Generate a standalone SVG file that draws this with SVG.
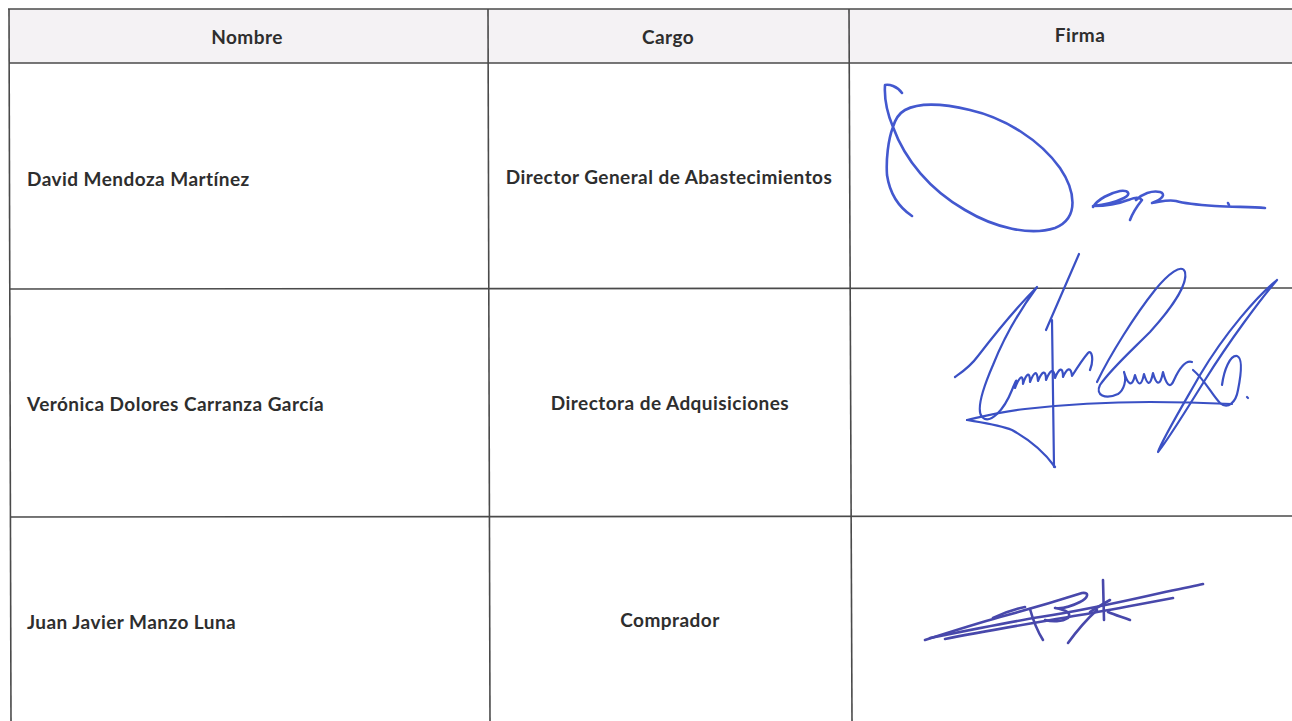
<svg xmlns="http://www.w3.org/2000/svg" width="1292" height="721" viewBox="0 0 1292 721">
<style>
.t{font-family:Lato,"Open Sans","Liberation Sans",sans-serif;font-weight:700;font-size:19px;letter-spacing:0.45px;fill:#2e2e2e}
.c{text-anchor:middle}
.ln{stroke:#4a4a4a;stroke-width:1.6;fill:none}
.s1{fill:none;stroke:#4358cf;stroke-width:2.6;stroke-linecap:round;stroke-linejoin:round}
.s2{fill:none;stroke:#3a50c4;stroke-width:2.2;stroke-linecap:round;stroke-linejoin:round}
.s3{fill:none;stroke:#4848ab;stroke-width:2.6;stroke-linecap:round;stroke-linejoin:round}
</style>
<rect width="1292" height="721" fill="#ffffff"/>
<rect x="9" y="9" width="1283" height="54" fill="#f4f2f4"/>
<g id="grid">
<line class="ln" x1="8" y1="9" x2="1292" y2="9"/>
<line class="ln" x1="9" y1="63" x2="1292" y2="63"/>
<line class="ln" x1="10" y1="289" x2="1292" y2="288"/>
<line class="ln" x1="11" y1="517" x2="1292" y2="516"/>
<line class="ln" x1="9" y1="9" x2="11" y2="721"/>
<line class="ln" x1="488" y1="9" x2="490" y2="721"/>
<line class="ln" x1="849" y1="9" x2="852" y2="721"/>
</g>
<g id="header">
<text class="t c" x="247" y="44">Nombre</text>
<text class="t c" x="668" y="44">Cargo</text>
<text class="t c" x="1080" y="42">Firma</text>
</g>
<g id="row1">
<text class="t" x="27" y="186">David Mendoza Martínez</text>
<text class="t c" x="669" y="184">Director General de Abastecimientos</text>
<g id="sig1">
<path class="s1" d="M902,93 C897,86 889,84 885,85 C884,100 888,115 893,127 C905,160 930,190 965,210 C995,228 1030,236 1055,228 C1080,218 1075,190 1060,168 C1040,140 1005,118 970,110 C945,104 920,102 905,110 C898,114 895,120 893,127 C888,140 886,160 887,175 C890,195 900,208 912,216"/>
<path class="s1" d="M1093,207 C1098,199 1110,193 1120,191 C1128,190 1132,194 1124,198 C1116,202 1104,205 1093,206 C1105,206 1118,204 1128,200 C1134,198 1139,196 1142,200 C1138,205 1133,212 1130,220 M1136,200 C1142,194 1152,190 1160,192 C1166,194 1163,199 1152,203 C1160,202 1168,199 1176,201 C1186,204 1200,205 1215,206 C1235,207 1252,207 1265,208"/>
<path class="s1" d="M1228,203 L1229,205"/>
</g>
</g>
<g id="row2">
<text class="t" x="27" y="411">Verónica Dolores Carranza García</text>
<text class="t c" x="670" y="410">Directora de Adquisiciones</text>
<g id="sig2">
<path class="s2" d="M1079,254 L1046,330"/>
<path class="s2" d="M1052,320 L1054,467"/>
<path class="s2" d="M955,377 C962,372 970,367 978,356 C995,334 1018,306 1037,287 C1020,310 1003,340 993,365 C983,388 976,410 982,417 C990,425 1004,410 1012,390 C1016,380 1018,376 1015,388 C1019,378 1023,372 1023,384 C1026,374 1030,370 1030,382 C1034,372 1037,369 1038,381 C1042,371 1046,369 1046,380 C1050,370 1054,367 1055,378 C1059,368 1063,366 1063,377 C1067,368 1071,366 1072,376 C1077,368 1082,360 1088,353 C1092,349 1094,360 1090,370"/>
<path class="s2" d="M1097,382 C1110,355 1135,315 1155,290 C1168,274 1182,263 1185,272 C1188,285 1170,310 1150,332 C1130,352 1110,370 1100,385 C1095,395 1105,400 1118,394 C1124,390 1127,380 1124,372 C1128,385 1132,388 1135,375 C1138,385 1141,388 1144,374 C1147,384 1150,388 1153,373 C1156,384 1160,388 1163,372 C1166,384 1170,390 1174,380 C1180,367 1186,360 1192,362"/>
<path class="s2" d="M1277,280 C1260,300 1230,340 1205,380 C1185,412 1168,440 1158,452 C1162,440 1180,410 1200,375 C1225,333 1258,295 1277,280"/>
<path class="s2" d="M1193,370 C1205,380 1212,395 1220,403 C1228,410 1236,402 1238,390 C1241,375 1243,358 1237,356 C1230,355 1224,370 1222,385"/>
<path class="s2" d="M1247,397 L1248,398"/>
<path class="s2" d="M967,420 C985,416 1000,412 1025,409 C1060,405 1100,402 1150,402 C1185,402 1210,403 1232,404"/>
<path class="s2" d="M967,420 C985,423 1000,425 1012,430 C1030,440 1045,453 1055,467"/>
</g>
</g>
<g id="row3">
<text class="t" x="27" y="629">Juan Javier Manzo Luna</text>
<text class="t c" x="670" y="627">Comprador</text>
<g id="sig3">
<path class="s3" d="M925,640 C950,632 975,624 1000,617 C1030,609 1060,600 1082,593 C1090,592 1088,598 1080,602 C1072,606 1062,609 1055,608 C1065,610 1072,612 1068,618 C1062,622 1052,622 1045,620"/>
<path class="s3" d="M945,639 C990,630 1040,622 1080,615 C1110,610 1140,604 1173,598"/>
<path class="s3" d="M930,638 C970,630 1010,622 1040,617 C1080,611 1130,600 1165,592 C1180,589 1195,586 1203,584"/>
<path class="s3" d="M993,618 C1005,612 1015,609 1025,607"/>
<path class="s3" d="M1030,609 C1033,620 1038,632 1043,640"/>
<path class="s3" d="M1103,580 L1104,620"/>
<path class="s3" d="M1068,643 C1076,632 1086,620 1097,610"/>
<path class="s3" d="M1108,612 C1115,615 1122,617 1130,620"/>
<path class="s3" d="M1090,612 C1096,608 1103,604 1110,600"/>
</g>
</g>
</svg>
